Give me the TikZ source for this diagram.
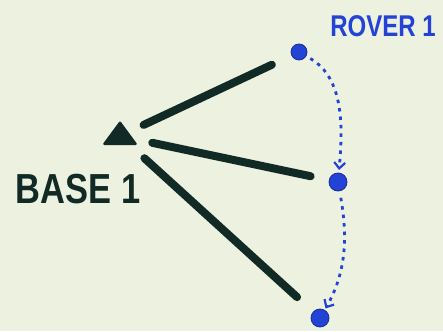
\documentclass[tikz,border=0pt]{standalone}
\usepackage{fontspec}
\setmainfont{Liberation Sans}
\usetikzlibrary{arrows.meta,shapes.geometric}
\definecolor{paper}{HTML}{EDF1DF}
\definecolor{ink}{HTML}{112A26}
\definecolor{pen}{HTML}{2342D6}
\tikzset{
  link/.style={ink, line width=8pt, line cap=round},
  dot/.style={circle, fill=pen, draw=pen!70!black, line width=0.8pt, inner sep=0pt, minimum size=#1},
  move/.style={pen, line width=2.8pt, dash pattern=on 3.5pt off 5pt, -{Straight Barb[length=6pt,width=11pt,line width=2.2pt]}},
  basetri/.style={isosceles triangle, shape border rotate=90, isosceles triangle stretches, fill=ink, draw=ink, line join=round, line width=2.5pt, inner sep=0pt, minimum height=21pt, minimum width=31pt},
}
\begin{document}
\begin{tikzpicture}[x=1pt,y=-1pt]
  \useasboundingbox[fill=paper] (0,0) rectangle (443,331);
  \node[basetri] (base) at (120,136) {};
  \node[dot=16pt] (r1) at (299,52) {};
  \node[dot=18pt] (r2) at (338,182) {};
  \node[dot=18pt] (r3) at (320,318) {};
  \node[ink, font=\bfseries\fontsize{42}{42}\selectfont, xscale=0.82, inner sep=0pt] (lb) at (78,189) {BASE 1};
  \node[pen, font=\bfseries\fontsize{30}{30}\selectfont, xscale=0.8, inner sep=0pt] (lr) at (383,26) {ROVER 1};
  \draw[link, shorten <=26pt, shorten >=30pt] (base.center) -- (r1.center);
  \draw[link, shorten <=33pt, shorten >=28pt] (base.center) -- (r2.center);
  \draw[link, shorten <=33pt, shorten >=31pt] (base.center) -- (r3.center);
  \draw[move, shorten <=13pt, shorten >=12pt] (r1.center) to[out=-30, in=85] (r2.center);
  \draw[move, shorten <=16pt, shorten >=11pt] (r2.center) to[out=-80, in=60] (r3.center);
\end{tikzpicture}
\end{document}
